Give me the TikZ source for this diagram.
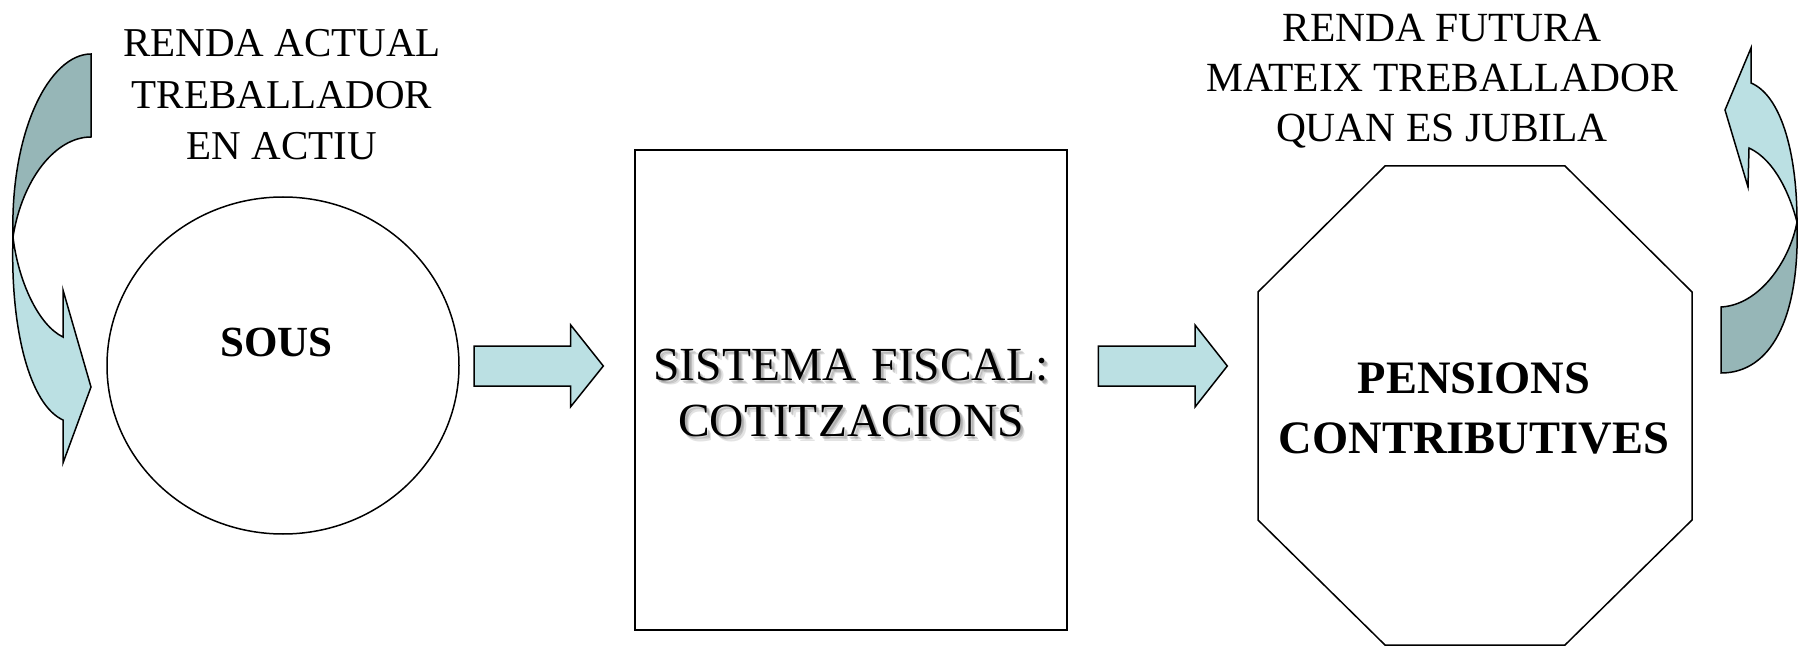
\documentclass[tikz,border=0pt]{standalone}
\usepackage{fontspec}
\setmainfont{Liberation Serif}
\usetikzlibrary{shapes.geometric}
\definecolor{lightfill}{RGB}{187,224,227}
\definecolor{darkfill}{RGB}{150,182,183}
\begin{document}
\begin{tikzpicture}[x=1pt,y=-1pt,line join=miter,
  outline/.style={draw=black,line width=1.5pt},
  lightpart/.style={outline,fill=lightfill},
  darkpart/.style={outline,fill=darkfill},
  toptext/.style={align=center,inner sep=0pt,anchor=base,font=\fontsize{41}{51.5}\selectfont},
  midtext/.style={align=center,inner sep=0pt,anchor=base,font=\fontsize{47.5}{56.7}\selectfont},
  octtext/.style={align=center,inner sep=0pt,anchor=base,font=\fontsize{46.5}{59.7}\selectfont\bfseries},
  soustext/.style={inner sep=0pt,anchor=base,font=\fontsize{43}{50}\selectfont\bfseries}]
\useasboundingbox (0,0) rectangle (1808,647);
\fill[white] (0,0) rectangle (1808,647);

% left curved arrow
\draw[lightpart] (13,237) .. controls (10,330) and (30,405) .. (63,420)
  -- (63,463) -- (91,387) -- (63,290) -- (63,337)
  .. controls (38,325) and (18,280) .. (13,237) -- cycle;
\draw[darkpart] (91,54) -- (91,137) .. controls (55,137) and (22,180) .. (13,237)
  .. controls (10,130) and (50,54) .. (91,54) -- cycle;

% right curved arrow
\draw[lightpart] (1797,222) .. controls (1790,195) and (1775,160) .. (1749,148)
  -- (1748,187) -- (1725,110) -- (1751,48) -- (1751,83)
  .. controls (1780,95) and (1797,150) .. (1797,222) -- cycle;
\draw[darkpart] (1797,222) .. controls (1800,320) and (1770,373) .. (1721,373)
  -- (1721,307) .. controls (1760,305) and (1790,260) .. (1797,222) -- cycle;

% circle
\node[ellipse,outline,minimum width=352pt,minimum height=337pt,inner sep=0pt] (sous) at (283,365.5) {};
\node[soustext] (soustxt) at (276.5,356) {SOUS};

% rectangle
\node[rectangle,outline,minimum width=432pt,minimum height=480pt,inner sep=0pt] (fiscal) at (851,390) {};
\foreach \dx/\op in {2/0.25,3/0.3,4.5/0.2}
  \node[midtext,text=black!55,opacity=\op] at (851+\dx,436.7+\dx) {SISTEMA\hspace{3pt} FISCAL:\\COTITZACIONS};
\node[midtext] (fiscaltxt) at (851,436.7) {SISTEMA\hspace{3pt} FISCAL:\\COTITZACIONS};

% octagon
\draw[outline] (1385,166) -- (1565,166) -- (1692,292) -- (1692,520) -- (1565,645)
  -- (1385,645) -- (1258,520) -- (1258,292) -- cycle;
\coordinate (pens) at (1475,405.5);
\node[octtext] (penstxt) at (1474,453) {PENSIONS\\CONTRIBUTIVES};

% block arrows
\draw[lightpart] (474,346) -- (570.7,346) -- (570.7,325) -- (603.3,366) -- (570.7,406.7)
  -- (570.7,386) -- (474,386) -- cycle;
\draw[lightpart] (1098.3,346) -- (1195,346) -- (1195,325) -- (1227.3,366) -- (1195,407)
  -- (1195,386) -- (1098.3,386) -- cycle;

% top texts
\node[toptext] (renda) at (282,160) {RENDA ACTUAL\\TREBALLADOR\\EN ACTIU};
\node[toptext,font=\fontsize{41.5}{50}\selectfont] (futura) at (1442,141.7) {RENDA FUTURA\\MATEIX TREBALLADOR\\QUAN ES JUBILA};
\end{tikzpicture}
\end{document}
